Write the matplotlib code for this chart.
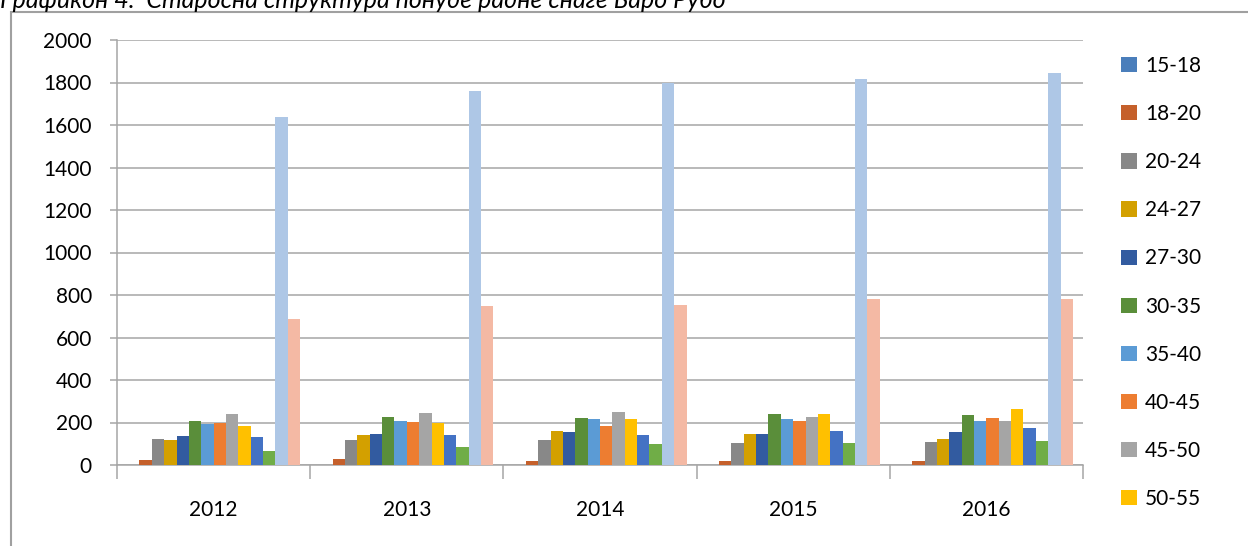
import numpy as np
import matplotlib
matplotlib.use("Agg")
import matplotlib.pyplot as plt
from matplotlib.patches import Rectangle, Patch

plt.rcParams['font.family'] = ['Lato', 'Open Sans', 'DejaVu Sans']

years = ['2012', '2013', '2014', '2015', '2016']
age_groups = ['15-18', '18-20', '20-24', '24-27', '27-30', '30-35', '35-40',
              '40-45', '45-50', '50-55', '55-60', '60-65', '65+', 'Укупно']
colors = ['#4A7EBB', '#C5602B', '#888888', '#D3A000', '#325BA0', '#5A8E3A',
          '#5B9BD5', '#ED7D31', '#A5A5A5', '#FFC000', '#4472C4', '#70AD47',
          '#AEC7E6', '#F4B9A4']

# values per age group, one entry per year
values = {
    '15-18': [0, 0, 0, 0, 0],
    '18-20': [22, 27, 19, 19, 19],
    '20-24': [121, 118, 118, 104, 107],
    '24-27': [118, 141, 160, 146, 121],
    '27-30': [137, 146, 155, 144, 155],
    '30-35': [208, 224, 221, 240, 237],
    '35-40': [193, 209, 218, 215, 205],
    '40-45': [199, 202, 185, 205, 221],
    '45-50': [240, 245, 248, 224, 207],
    '50-55': [182, 199, 215, 240, 262],
    '55-60': [133, 140, 143, 158, 176],
    '60-65': [67, 86, 97, 104, 113],
    '65+': [1638, 1760, 1800, 1816, 1845],
    'Укупно': [685, 750, 755, 780, 780],
}

W, H = 1248, 546
fig = plt.figure(figsize=(W / 100, H / 100), dpi=100)
ax = fig.add_axes([117 / W, 1 - 465 / H, (1083 - 117) / W, (465 - 40) / H])

n = len(age_groups)
bw = 0.064
x = np.arange(len(years))
for i, g in enumerate(age_groups):
    off = (i - (n - 1) / 2) * bw
    ax.bar(x + off, values[g], width=bw, color=colors[i], zorder=3)

ax.set_xlim(-0.5, len(years) - 0.5)
ax.set_ylim(0, 2000)
ax.set_yticks(np.arange(0, 2001, 200))
ax.yaxis.grid(True, color='#A6A6A6', linewidth=1.1, zorder=0)
ax.set_axisbelow(True)

ax.set_xticks(x)
ax.set_xticklabels(years)
ax.set_xticks(np.arange(-0.5, len(years)), minor=True)
ax.tick_params(axis='x', which='major', length=0, pad=25, labelsize=15)
ax.tick_params(axis='x', which='minor', length=10, color='#A6A6A6', width=1.1)
ax.tick_params(axis='y', length=5, color='#A6A6A6', width=1.1, pad=13, labelsize=15)

for s in ['top', 'right']:
    ax.spines[s].set_visible(False)
for s in ['left', 'bottom']:
    ax.spines[s].set_color('#A6A6A6')
    ax.spines[s].set_linewidth(1.1)

handles = [Patch(facecolor=colors[i], label=age_groups[i]) for i in range(10)]
fig.legend(handles=handles, loc='upper left', bbox_to_anchor=(1121 / W, 1 - 56 / H),
           frameon=False, fontsize=15, handlelength=0.75, handleheight=0.75,
           handletextpad=0.4, labelspacing=1.35, borderpad=0, borderaxespad=0)

# outer chart frame (extends beyond the image edge)
fig.patches.append(Rectangle((11 / W, -0.1), 1.2, 1 - 12 / H + 0.1,
                             transform=fig.transFigure, fill=False,
                             edgecolor='#A0A0A0', linewidth=1.5))

fig.text(0.0, 1 - 8 / H, 'Графикон 4.  Старосна структура понуде радне снаге Баро Рубо',
         fontsize=18, style='italic', va='baseline', ha='left')

fig.savefig('out.png', dpi=100)
